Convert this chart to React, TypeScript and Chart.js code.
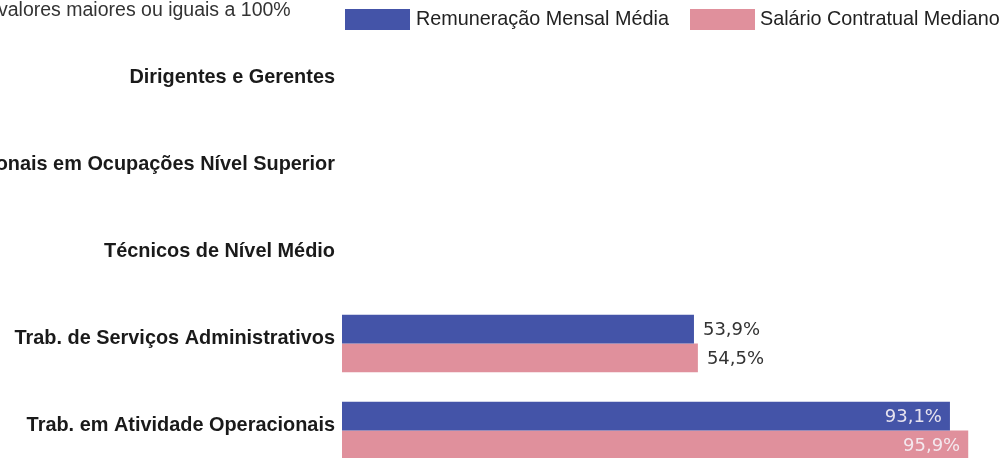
import React, { useEffect, useRef } from "react";
import { Chart, registerables } from "chart.js";

Chart.register(...registerables);

const categories = [
  "Dirigentes e Gerentes",
  "Profissionais em Ocupações Nível Superior",
  "Técnicos de Nível Médio",
  "Trab. de Serviços Administrativos",
  "Trab. em Atividade Operacionais",
];
const remuneracaoMensalMedia: (number | null)[] = [null, null, null, 53.9, 93.1];
const salarioContratualMediano: (number | null)[] = [null, null, null, 54.5, 95.9];
const seriesNames = ["Remuneração Mensal Média", "Salário Contratual Mediano"];
const seriesColors = ["#4454A8", "#E0909C"];
const noteText = "valores maiores ou iguais a 100%";
const xMin = 0;
const xMax = 100;

const fmt = (v: number) => v.toFixed(1).replace(".", ",") + "%";

const overlayPlugin = {
  id: "overlay",
  afterDraw(chart: any) {
    const ctx = chart.ctx as CanvasRenderingContext2D;
    ctx.save();
    // note (top-left)
    ctx.font = "19.5px 'Liberation Sans', Arial, sans-serif";
    ctx.fillStyle = "#333333";
    ctx.textAlign = "left";
    ctx.textBaseline = "middle";
    ctx.fillText(noteText, -2, 11);

    // legend
    const items = [
      { x: 345, textX: 416 },
      { x: 690, textX: 760 },
    ];
    chart.data.datasets.forEach((ds: any, i: number) => {
      const it = items[i];
      ctx.fillStyle = ds.backgroundColor;
      ctx.fillRect(it.x, 9, 65, 21);
      ctx.fillStyle = "#222222";
      ctx.font = "19.8px 'Liberation Sans', Arial, sans-serif";
      ctx.fillText(ds.label, it.textX, 20);
    });

    // data labels
    const area = chart.chartArea;
    ctx.font = "18px 'DejaVu Sans', Verdana, sans-serif";
    chart.data.datasets.forEach((ds: any, di: number) => {
      const meta = chart.getDatasetMeta(di);
      meta.data.forEach((bar: any, idx: number) => {
        const v = ds.data[idx];
        if (v == null) return;
        const label = fmt(v);
        const w = ctx.measureText(label).width;
        const end = bar.x;
        if (end + 9 + w <= area.right) {
          ctx.fillStyle = "#333333";
          ctx.textAlign = "left";
          ctx.fillText(label, end + 9, bar.y + 1);
        } else {
          ctx.fillStyle = "rgba(245,240,245,0.92)";
          ctx.textAlign = "right";
          ctx.fillText(label, end - 8, bar.y + 1);
        }
      });
    });
    ctx.restore();
  },
};

export default function App() {
  const ref = useRef<HTMLCanvasElement | null>(null);

  useEffect(() => {
    if (!ref.current) return;
    const chart = new Chart(ref.current, {
      type: "bar",
      data: {
        labels: categories,
        datasets: [
          {
            label: seriesNames[0],
            data: remuneracaoMensalMedia,
            backgroundColor: seriesColors[0],
            categoryPercentage: 0.66,
            barPercentage: 1.0,
          },
          {
            label: seriesNames[1],
            data: salarioContratualMediano,
            backgroundColor: seriesColors[1],
            categoryPercentage: 0.66,
            barPercentage: 1.0,
          },
        ],
      },
      options: {
        indexAxis: "y",
        animation: false,
        responsive: false,
        devicePixelRatio: 1,
        layout: { padding: { top: 39, right: 9, bottom: 0, left: 0 } },
        plugins: {
          legend: { display: false },
          tooltip: { enabled: false },
          title: { display: false },
        },
        scales: {
          x: {
            display: false,
            min: xMin,
            max: xMax,
          },
          y: {
            grid: { display: false, drawTicks: false },
            border: { display: false },
            ticks: {
              padding: 7,
              labelOffset: -5,
              color: "#1a1a1a",
              font: { family: "'Liberation Sans', Arial, sans-serif", size: 19.9, weight: "bold" },
            },
            afterFit(scale: any) {
              scale.width = 342;
            },
          },
        },
      },
      plugins: [overlayPlugin],
    });
    return () => chart.destroy();
  }, []);

  return (
    <div
      style={{
        position: "fixed",
        top: 0,
        left: 0,
        width: 1004,
        height: 458,
        overflow: "hidden",
        background: "#ffffff",
      }}
    >
      <canvas ref={ref} width={1004} height={493} style={{ display: "block" }} />
    </div>
  );
}
